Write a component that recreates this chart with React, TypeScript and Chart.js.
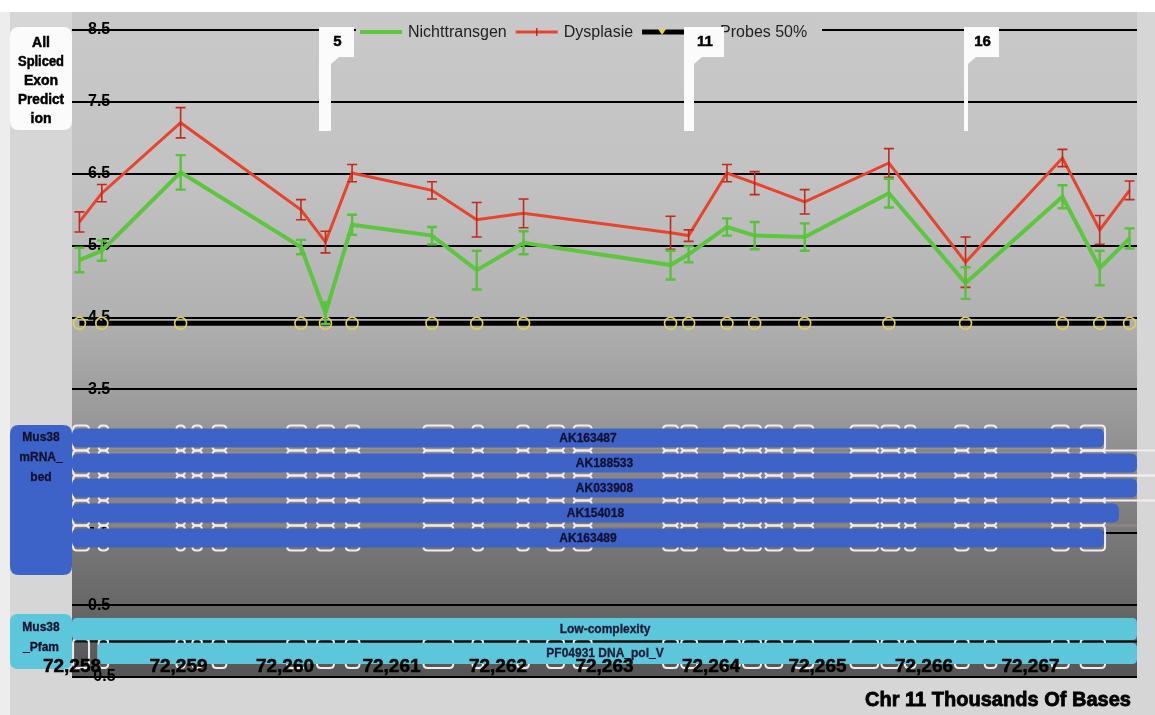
import React, { useEffect, useRef } from "react";
import { Chart, registerables } from "chart.js";

Chart.register(...registerables);

// Probe positions on chromosome 11, in thousands of bases
const probePositions = [
  72258.07, 72258.28, 72259.02, 72260.15, 72260.38, 72260.63, 72261.38, 72261.8, 72262.24, 72263.62,
  72263.79, 72264.15, 72264.41, 72264.88, 72265.67, 72266.39, 72267.3, 72267.65, 72267.93,
];

const nichttransgen = [5.3, 5.43, 6.52, 5.48, 4.56, 5.79, 5.64, 5.16, 5.54, 5.23, 5.38, 5.76, 5.64, 5.62, 6.23, 4.98, 6.18, 5.19, 5.6];
const nichttransgenErr = [0.17, 0.14, 0.24, 0.1, 0.15, 0.14, 0.12, 0.27, 0.16, 0.2, 0.11, 0.12, 0.19, 0.19, 0.2, 0.22, 0.16, 0.24, 0.14];

const dysplasie = [5.83, 6.23, 7.21, 6.0, 5.55, 6.51, 6.27, 5.86, 5.95, 5.68, 5.64, 6.51, 6.37, 6.11, 6.65, 5.27, 6.72, 5.72, 6.27];
const dysplasieErr = [0.14, 0.12, 0.21, 0.14, 0.15, 0.12, 0.12, 0.24, 0.2, 0.23, 0.08, 0.12, 0.16, 0.17, 0.2, 0.35, 0.12, 0.2, 0.13];

const probes50 = [4.42, 4.42, 4.42, 4.42, 4.42, 4.42, 4.42, 4.42, 4.42, 4.42, 4.42, 4.42, 4.42, 4.42, 4.42, 4.42, 4.42, 4.42, 4.42];

// Flagged probes (1-based probe numbers)
const flagProbes = [5, 11, 16];

const xTickValues = [72258, 72259, 72260, 72261, 72262, 72263, 72264, 72265, 72266, 72267];
const yTickValues = [8.5, 7.5, 6.5, 5.5, 4.5, 3.5, 2.5, 1.5, 0.5, -0.5];

// mRNA track (Mus38 mRNA_bed)
const mrnaNames = ["AK163487", "AK188533", "AK033908", "AK154018", "AK163489"];
const mrnaStarts = [72258, 72258, 72258, 72258, 72258];
const mrnaEnds = [72267.69, 72268, 72268, 72267.83, 72267.69];
const mrnaTailExon = [false, true, true, false, false];

// Exon blocks shared by the transcripts (start, end in kb)
const exonStarts = [
  72258.01, 72258.25, 72258.98, 72259.13, 72259.32, 72260.02, 72260.3, 72260.57, 72261.3, 72261.76,
  72262.18, 72262.46, 72262.71, 72263.55, 72263.72, 72264.12, 72264.3, 72264.51, 72264.78, 72265.31,
  72265.6, 72265.82, 72266.29, 72266.57, 72267.2, 72267.47,
];
const exonEnds = [
  72258.16, 72258.34, 72259.06, 72259.22, 72259.45, 72260.2, 72260.46, 72260.7, 72261.58, 72261.86,
  72262.29, 72262.62, 72262.88, 72263.69, 72263.87, 72264.27, 72264.47, 72264.67, 72264.96, 72265.57,
  72265.77, 72265.92, 72266.42, 72266.68, 72267.36, 72267.7,
];
const tailExon = [72267.47, 72268.3];

// Pfam track (Mus38 _Pfam)
const pfamNames = ["Low-complexity", "PF04931 DNA_pol_V"];
const pfamStarts = [72258, 72258.24];
const pfamEnds = [72268, 72268];

const seriesColors = { green: "#5cc63e", red: "#e8432c", probe: "#000000", probeMarker: "#e2d24a" };
const FONT = '"Liberation Sans", Arial, sans-serif';
const NARROW = '"Liberation Sans Narrow", "Liberation Sans", Arial, sans-serif';

const W = 1155;
const H = 715;

function roundRect(ctx: CanvasRenderingContext2D, x: number, y: number, w: number, h: number, r: number) {
  ctx.beginPath();
  ctx.moveTo(x + r, y);
  ctx.lineTo(x + w - r, y);
  ctx.quadraticCurveTo(x + w, y, x + w, y + r);
  ctx.lineTo(x + w, y + h - r);
  ctx.quadraticCurveTo(x + w, y + h, x + w - r, y + h);
  ctx.lineTo(x + r, y + h);
  ctx.quadraticCurveTo(x, y + h, x, y + h - r);
  ctx.lineTo(x, y + r);
  ctx.quadraticCurveTo(x, y, x + r, y);
  ctx.closePath();
}

// Heavy, condensed label text
function heavyText(ctx: CanvasRenderingContext2D, t: string, x: number, y: number, maxW: number, stroke = 0.6) {
  ctx.fillText(t, x, y, maxW);
  ctx.lineWidth = stroke;
  ctx.strokeStyle = ctx.fillStyle as string;
  ctx.strokeText(t, x, y, maxW);
}

const backgroundPlugin = {
  id: "panelBackground",
  beforeDraw(chart: any) {
    const { ctx, chartArea } = chart;
    ctx.save();
    ctx.fillStyle = "#d6d6d6";
    ctx.fillRect(0, 0, W, H);
    ctx.fillStyle = "#ffffff";
    ctx.fillRect(0, 0, W, 12);
    ctx.fillStyle = "#ededed";
    ctx.fillRect(0, 12, 10, H - 12);
    const top = 12;
    const g = ctx.createLinearGradient(0, top, 0, chartArea.bottom);
    g.addColorStop(0, "#c9c9c9");
    g.addColorStop(0.25, "#c2c2c2");
    g.addColorStop(0.45, "#b2b2b2");
    g.addColorStop(0.6, "#9a9a9a");
    g.addColorStop(0.8, "#777777");
    g.addColorStop(1, "#555555");
    ctx.fillStyle = g;
    ctx.fillRect(chartArea.left, top, chartArea.right - chartArea.left, chartArea.bottom - top);
    ctx.restore();
  },
};

const errorBarPlugin = {
  id: "errorBars",
  afterDatasetsDraw(chart: any) {
    const { ctx } = chart;
    const xs = chart.scales.x;
    const ys = chart.scales.y;
    const sets = [
      { vals: dysplasie, errs: dysplasieErr, color: "#c22a1c", width: 1.6 },
      { vals: nichttransgen, errs: nichttransgenErr, color: "#58c23a", width: 2.4 },
    ];
    ctx.save();
    for (const s of sets) {
      ctx.strokeStyle = s.color;
      ctx.lineWidth = s.width;
      probePositions.forEach((p, i) => {
        const x = xs.getPixelForValue(p);
        const y1 = ys.getPixelForValue(s.vals[i] + s.errs[i]);
        const y2 = ys.getPixelForValue(s.vals[i] - s.errs[i]);
        ctx.beginPath();
        ctx.moveTo(x, y1);
        ctx.lineTo(x, y2);
        ctx.moveTo(x - 5, y1);
        ctx.lineTo(x + 5, y1);
        ctx.moveTo(x - 5, y2);
        ctx.lineTo(x + 5, y2);
        ctx.stroke();
      });
    }
    ctx.restore();
  },
};

const tracksPlugin = {
  id: "annotationTracks",
  afterDatasetsDraw(chart: any) {
    const { ctx } = chart;
    const xs = chart.scales.x;
    const px = (v: number) => xs.getPixelForValue(v);
    ctx.save();

    // --- mRNA rows ---
    const rowTop0 = 428.5;
    const rowStep = 25;
    const rowH = 19;
    ctx.strokeStyle = "#8c8484";
    ctx.lineWidth = 3;
    for (let i = 0; i < mrnaNames.length - 1; i++) {
      const y = rowTop0 + i * rowStep + rowH + 3;
      ctx.beginPath();
      ctx.moveTo(px(72258), y);
      ctx.lineTo(px(72268), y);
      ctx.stroke();
    }
    ctx.strokeStyle = "#f2ecec";
    ctx.lineWidth = 2;
    mrnaNames.forEach((_, i) => {
      const top = rowTop0 + i * rowStep;
      exonStarts.forEach((s, k) => {
        const x0 = px(s);
        const x1 = px(exonEnds[k]);
        roundRect(ctx, x0, top - 3, x1 - x0, rowH + 6, 4);
        ctx.stroke();
      });
      if (mrnaTailExon[i]) {
        const x0 = px(tailExon[0]);
        const x1 = px(tailExon[1]);
        roundRect(ctx, x0, top - 3, x1 - x0, rowH + 6, 4);
        ctx.stroke();
      }
    });
    mrnaNames.forEach((name, i) => {
      const top = rowTop0 + i * rowStep;
      const x0 = px(mrnaStarts[i]);
      const x1 = px(mrnaEnds[i]);
      ctx.fillStyle = "#3e63c8";
      roundRect(ctx, x0, top, x1 - x0, rowH, 6);
      ctx.fill();
      ctx.fillStyle = "#121230";
      ctx.font = `bold 12px ${FONT}`;
      ctx.textAlign = "center";
      ctx.textBaseline = "middle";
      heavyText(ctx, name, (x0 + x1) / 2, top + rowH / 2 + 0.5, 66, 0.3);
    });
    // mRNA label
    ctx.fillStyle = "#3e63c8";
    roundRect(ctx, 10, 425, 62, 150, 9);
    ctx.fill();
    ctx.fillStyle = "#121230";
    ctx.font = `bold 12px ${FONT}`;
    ctx.textAlign = "center";
    ["Mus38", "mRNA_", "bed"].forEach((t, i) => heavyText(ctx, t, 41, 438 + i * 20, 46, 0.3));

    // --- Pfam rows ---
    const pfTops = [618, 643];
    const pfH = [22, 21];
    ctx.strokeStyle = "#111";
    ctx.lineWidth = 2;
    ctx.beginPath();
    ctx.moveTo(px(72258), 641.5);
    ctx.lineTo(px(72268), 641.5);
    ctx.stroke();
    ctx.strokeStyle = "#f2ecec";
    ctx.lineWidth = 2;
    exonStarts.forEach((s, k) => {
      const x0 = px(s);
      const x1 = px(exonEnds[k]);
      roundRect(ctx, x0, pfTops[1] - 4, x1 - x0, pfH[1] + 8, 4);
      ctx.stroke();
    });
    pfamNames.forEach((name, i) => {
      const x0 = px(pfamStarts[i]);
      const x1 = px(pfamEnds[i]);
      ctx.fillStyle = "#5cc6da";
      roundRect(ctx, x0, pfTops[i], x1 - x0, pfH[i], 5);
      ctx.fill();
      ctx.fillStyle = "#1a1a38";
      ctx.font = `bold 12px ${FONT}`;
      ctx.textAlign = "center";
      ctx.textBaseline = "middle";
      heavyText(ctx, name, 605, pfTops[i] + pfH[i] / 2 + 0.5, 120, 0.3);
    });
    ctx.fillStyle = "#5cc6da";
    roundRect(ctx, 10, 614, 62, 55, 8);
    ctx.fill();
    ctx.fillStyle = "#121230";
    ctx.font = `bold 12px ${FONT}`;
    ["Mus38", "_Pfam"].forEach((t, i) => heavyText(ctx, t, 41, 628 + i * 20, 46, 0.3));

    ctx.restore();
  },
  afterDraw(chart: any) {
    const { ctx } = chart;
    const xs = chart.scales.x;
    const ys = chart.scales.y;
    ctx.save();

    // x tick labels, drawn inside the bottom strip
    ctx.fillStyle = "#000";
    ctx.font = `bold 19px ${NARROW}`;
    ctx.textAlign = "center";
    ctx.textBaseline = "middle";
    xTickValues.forEach((v) => {
      heavyText(ctx, v.toLocaleString("en-US"), xs.getPixelForValue(v), 667, 60, 0.5);
    });

    // axis title
    ctx.font = `bold 21px ${NARROW}`;
    ctx.textAlign = "right";
    heavyText(ctx, "Chr 11 Thousands Of Bases", 1131, 700, 266, 0.8);

    // legend
    const ly = ys.getPixelForValue(8.5) + 2;
    ctx.fillStyle = "#c8c8c8";
    ctx.fillRect(356, ly - 11, 466, 21);
    const ds = chart.data.datasets;
    const sampleW = [42, 42, 72];
    let lx = 360;
    ctx.font = `16px ${FONT}`;
    ctx.textAlign = "left";
    ds.forEach((d: any, i: number) => {
      ctx.strokeStyle = d.borderColor;
      ctx.lineWidth = d.borderWidth;
      ctx.beginPath();
      ctx.moveTo(lx, ly);
      ctx.lineTo(lx + sampleW[i], ly);
      ctx.stroke();
      if (i === 1) {
        ctx.lineWidth = 1.5;
        ctx.strokeStyle = "#c22a1c";
        ctx.beginPath();
        ctx.moveTo(lx + 21, ly - 4);
        ctx.lineTo(lx + 21, ly + 4);
        ctx.stroke();
      }
      if (i === 2) {
        ctx.fillStyle = seriesColors.probeMarker;
        ctx.beginPath();
        ctx.moveTo(lx + 16, ly - 3);
        ctx.lineTo(lx + 24, ly - 3);
        ctx.lineTo(lx + 20, ly + 3);
        ctx.closePath();
        ctx.fill();
      }
      ctx.fillStyle = "#1e1e1e";
      ctx.fillText(d.label, lx + sampleW[i] + 6, ly + 1);
      lx += sampleW[i] + 6 + ctx.measureText(d.label).width + 9;
    });

    // flags on selected probes
    const poleW: Record<number, number> = { 5: 12, 11: 10, 16: 4 };
    const boxW: Record<number, number> = { 5: 35, 11: 40, 16: 35 };
    flagProbes.forEach((n) => {
      const cx = xs.getPixelForValue(probePositions[n - 1]);
      const pw = poleW[n];
      const L = Math.round(cx - pw / 2);
      const top = 27;
      ctx.fillStyle = "#fbfbfb";
      ctx.beginPath();
      ctx.moveTo(L, top);
      ctx.lineTo(L + boxW[n], top);
      ctx.lineTo(L + boxW[n], top + 30);
      ctx.lineTo(L + pw + 8, top + 30);
      ctx.lineTo(L + pw, top + 37);
      ctx.lineTo(L + pw, 131);
      ctx.lineTo(L, 131);
      ctx.closePath();
      ctx.fill();
      ctx.fillStyle = "#000";
      ctx.font = `bold 15px ${FONT}`;
      ctx.textAlign = "center";
      ctx.textBaseline = "middle";
      heavyText(ctx, String(n), L + boxW[n] / 2 + 1, top + 15, 30, 0.5);
    });

    // track label at top left
    ctx.fillStyle = "#fbfbfb";
    roundRect(ctx, 10, 27, 62, 103, 9);
    ctx.fill();
    ctx.fillStyle = "#000";
    ctx.font = `bold 14px ${NARROW}`;
    ctx.textAlign = "center";
    ["All", "Spliced", "Exon", "Predict", "ion"].forEach((t, i) => heavyText(ctx, t, 41, 43 + i * 19, 46, 0.5));

    ctx.restore();
  },
};

export default function App() {
  const ref = useRef<HTMLCanvasElement | null>(null);
  useEffect(() => {
    document.body.style.margin = "0";
    const canvas = ref.current;
    if (!canvas) return;
    const pts = (vals: number[]) => vals.map((v, i) => ({ x: probePositions[i], y: v }));
    const chart = new Chart(canvas, {
      type: "line",
      data: {
        datasets: [
          {
            label: "Nichttransgen",
            data: pts(nichttransgen),
            borderColor: seriesColors.green,
            borderWidth: 4,
            pointRadius: 0,
            tension: 0,
          },
          {
            label: "Dysplasie",
            data: pts(dysplasie),
            borderColor: seriesColors.red,
            borderWidth: 3,
            pointRadius: 0,
            tension: 0,
          },
          {
            label: "Probes 50%",
            data: pts(probes50),
            borderColor: seriesColors.probe,
            borderWidth: 5,
            pointRadius: 6,
            pointBorderWidth: 1.6,
            pointBorderColor: seriesColors.probeMarker,
            pointBackgroundColor: "rgba(0,0,0,0)",
            tension: 0,
          },
        ],
      },
      options: {
        animation: false,
        responsive: false,
        devicePixelRatio: 1,
        layout: { padding: { left: 72, right: 18, top: 30, bottom: 38 } },
        plugins: { legend: { display: false }, tooltip: { enabled: false } },
        scales: {
          x: { type: "linear", min: 72258, max: 72268, display: false },
          y: {
            type: "linear",
            min: -0.5,
            max: 8.5,
            afterBuildTicks: (s: any) => {
              s.ticks = yTickValues.map((v) => ({ value: v }));
            },
            afterFit: (s: any) => {
              s.width = 0;
            },
            border: { display: false },
            grid: { color: "#000", lineWidth: 2, drawTicks: false },
            ticks: {
              mirror: true,
              padding: 16,
              color: "#000",
              font: { family: FONT, size: 16, weight: "bold" },
              callback: (v: any) => Number(v).toFixed(1),
            },
          },
        },
      },
      plugins: [backgroundPlugin, errorBarPlugin, tracksPlugin],
    });
    return () => chart.destroy();
  }, []);
  return (
    <div style={{ position: "fixed", left: 0, top: 0, width: W, height: H }}>
      <canvas ref={ref} width={W} height={H} style={{ display: "block" }} />
    </div>
  );
}
